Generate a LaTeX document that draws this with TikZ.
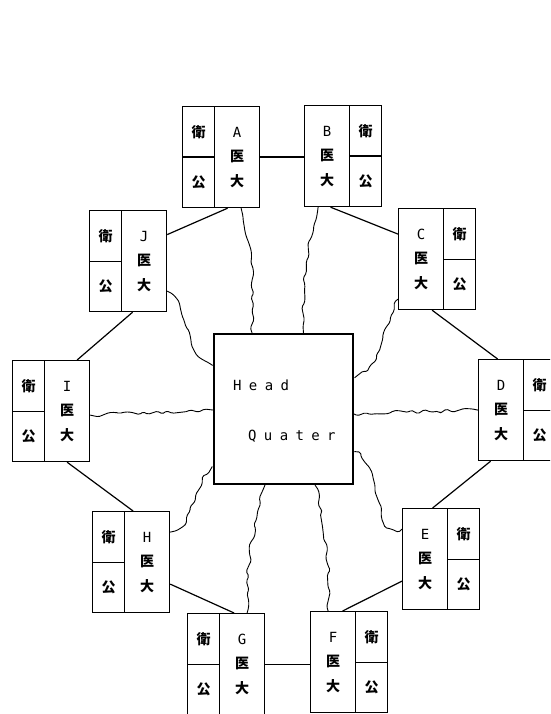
\documentclass[tikz,border=0pt]{standalone}
\usepackage{fontspec}
\newfontfamily\cjk{Noto Sans CJK JP}
\newfontfamily\ltr{DejaVu Sans Mono}
\usetikzlibrary{decorations.pathmorphing}
\newcommand\hqch[1]{\makebox[15.8pt][l]{#1}}
% unit with small box on the left: name, x of small box, top y, letter
\newcommand\unitSL[4]{%
  \node[cell,anchor=north west] (#1w) at (#2,#3) {衛};
  \node[cell,anchor=north west] (#1k) at ({#2},{#3+50.5}) {公};
  \node[big,anchor=north west] (#1) at ({#2+32},{#3}) {{\ltr #4}\\{\cjk\bfseries 医}\\{\cjk\bfseries 大}};
}
% unit with big box on the left: name, x of big box, top y, letter
\newcommand\unitSR[4]{%
  \node[big,anchor=north west] (#1) at (#2,#3) {{\ltr #4}\\{\cjk\bfseries 医}\\{\cjk\bfseries 大}};
  \node[cell,anchor=north west] (#1w) at ({#2+45},{#3}) {衛};
  \node[cell,anchor=north west] (#1k) at ({#2+45},{#3+50.5}) {公};
}
\begin{document}
\begin{tikzpicture}[x=1pt,y=-1pt,
  box/.style={draw, line width=1.2pt, inner sep=0pt},
  big/.style={box, minimum width=45pt, minimum height=101pt, align=center, font=\fontsize{14}{24.5}\selectfont},
  cell/.style={box, minimum width=32pt, minimum height=50.5pt, font=\fontsize{14}{16}\selectfont\cjk\bfseries},
  ring/.style={line width=1.2pt},
  wavy/.style={line width=0.9pt, decorate, decoration={random steps, segment length=6pt, amplitude=2.2pt}, rounded corners=1.5pt},
  hq/.style={draw, line width=2.2pt, minimum width=139pt, minimum height=150pt, inner sep=0pt},
  hqtext/.style={anchor=base west, inner sep=0pt, font=\fontsize{14}{16}\selectfont\ltr}]
\useasboundingbox (0,0) rectangle (550,714);
\clip (0,0) rectangle (550,714);
\pgfmathsetseed{11}

\node[hq] (HQ) at (283.5,409) {};
\node[hqtext] (hd) at (233,390) {\hqch{H}\hqch{e}\hqch{a}d};
\node[hqtext] (qt) at (248,440) {\hqch{Q}\hqch{u}\hqch{a}\hqch{t}\hqch{e}r};

\unitSL{A}{182}{106}{A}
\unitSR{B}{304}{105}{B}
\unitSR{C}{398}{208}{C}
\unitSR{D}{478}{359}{D}
\unitSR{E}{402}{508}{E}
\unitSR{F}{310}{611}{F}
\unitSL{G}{187}{613}{G}
\unitSL{H}{92}{511}{H}
\unitSL{I}{12}{360}{I}
\unitSL{J}{89}{210}{J}

% ring connectors
\draw[ring] (A.east) -- (A.east -| B.west);
\draw[ring] ([xshift=3.5]B.south) -- ([yshift=25]C.west);
\draw[ring] ([xshift=11]C.south) -- ([xshift=-3.5]D.north);
\draw[ring] ([xshift=-10.5]D.south) -- ([xshift=7.5]E.north);
\draw[ring] ([yshift=-22]E.west) -- ([xshift=9.5]F.north);
\draw[ring] (G.east) -- (G.east -| F.west);
\draw[ring] ([xshift=-8]G.north) -- ([yshift=-22]H.east);
\draw[ring] ([xshift=-14]H.north) -- (I.south);
\draw[ring] ([xshift=10]I.north) -- ([xshift=-11.5]J.south);
\draw[ring] ([yshift=26.5]J.east) -- ([xshift=-9.5]A.south);

% wavy links to the head quarter
\draw[wavy] ([xshift=4]A.south) to[bend left=8] ([xshift=-31.5]HQ.north);
\draw[wavy] ([xshift=-9]B.south) to[bend right=8] ([xshift=20]HQ.north);
\draw[wavy] ([yshift=-40]C.west) to[out=240,in=20] ([yshift=32]HQ.east);
\draw[wavy] (D.west) -- ([yshift=-5]HQ.east);
\draw[wavy] ([yshift=30]E.west) to[out=200,in=-20] ([yshift=-43]HQ.east);
\draw[wavy] ([xshift=-5]F.north) to[bend right=8] ([xshift=31.5]HQ.south);
\draw[wavy] ([xshift=5]G.north) to[bend left=8] ([xshift=-18.5]HQ.south);
\draw[wavy] ([yshift=30]H.east) to[out=20,in=220] ([yshift=-58]HQ.west);
\draw[wavy] ([yshift=-4]I.east) -- ([yshift=-1]HQ.west);
\draw[wavy] ([yshift=-30]J.east) to[out=-40,in=160] ([yshift=44]HQ.west);
\end{tikzpicture}
\end{document}
